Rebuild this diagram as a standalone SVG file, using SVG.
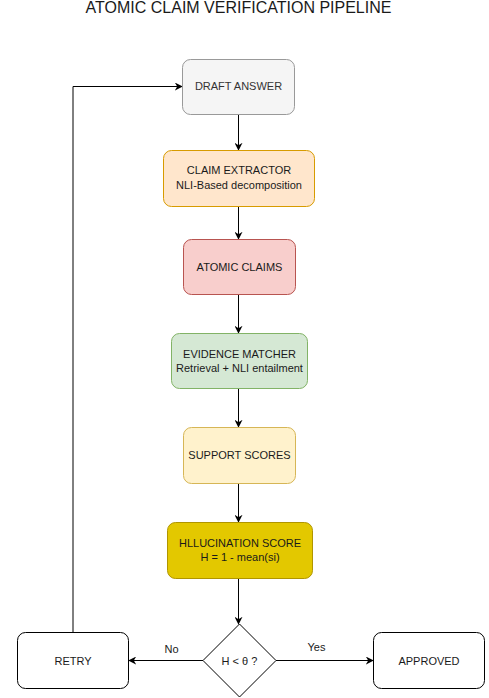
<svg xmlns="http://www.w3.org/2000/svg" width="489" height="698" viewBox="0 0 489 698">
<defs>
<style>
.t{font-family:"Liberation Sans",Arial,sans-serif;font-size:11px;fill:#1a1a1a;text-anchor:middle}
.title{font-family:"Liberation Sans",Arial,sans-serif;font-size:16px;fill:#1a1a1a;text-anchor:middle}
.c{fill:none;stroke:#000;stroke-width:1;marker-end:url(#ah)}
</style>
<marker id="ah" viewBox="0 0 10 10" refX="9" refY="5" markerWidth="8" markerHeight="8" markerUnits="userSpaceOnUse" orient="auto">
<path d="M0,0 L10,5 L0,10 L3,5 Z" fill="#000"/>
</marker>
</defs>
<rect width="489" height="698" fill="#fff"/>
<text class="title" x="238.5" y="13.3">ATOMIC CLAIM VERIFICATION PIPELINE</text>
<g id="connectors">
<path class="c" d="M238.5,114 V150"/>
<path class="c" d="M238.5,206 V239"/>
<path class="c" d="M238.5,294 V333"/>
<path class="c" d="M238.5,388 V427"/>
<path class="c" d="M238.5,483 V522"/>
<path class="c" d="M238.5,578 V624"/>
<path class="c" d="M203,660.5 H129"/>
<path class="c" d="M276,660.5 H373"/>
<path class="c" d="M73,632 V86.5 H182"/>
<text class="t" x="171.5" y="653">No</text>
<text class="t" x="316.5" y="650.5">Yes</text>
</g>
<g id="draft">
<rect x="182.5" y="59.5" width="112" height="55" rx="8" fill="#f5f5f5" stroke="#999"/>
<text class="t" x="238.5" y="90" style="fill:#333">DRAFT ANSWER</text>
</g>
<g id="extractor">
<rect x="163.5" y="150.5" width="151" height="56" rx="8" fill="#ffe6cc" stroke="#d79b00"/>
<text class="t" x="239" y="174">CLAIM EXTRACTOR</text>
<text class="t" x="239" y="189">NLI-Based decomposition</text>
</g>
<g id="claims">
<rect x="183.5" y="239.5" width="112" height="55" rx="8" fill="#f8cecc" stroke="#b85450"/>
<text class="t" x="239.5" y="270.5">ATOMIC CLAIMS</text>
</g>
<g id="matcher">
<rect x="171.5" y="333.5" width="136" height="55" rx="8" fill="#d5e8d4" stroke="#82b366"/>
<text class="t" x="239.5" y="358">EVIDENCE MATCHER</text>
<text class="t" x="239.5" y="371.5">Retrieval + NLI entailment</text>
</g>
<g id="support">
<rect x="183.5" y="427.5" width="112" height="56" rx="8" fill="#fff2cc" stroke="#d6b656"/>
<text class="t" x="239.5" y="458.5">SUPPORT SCORES</text>
</g>
<g id="hallucination">
<rect x="167.5" y="522.5" width="145" height="56" rx="8" fill="#e3c800" stroke="#b09500"/>
<text class="t" x="240" y="546.5">HLLUCINATION SCORE</text>
<text class="t" x="240" y="560.5">H = 1 - mean(si)</text>
</g>
<g id="decision">
<path d="M239.5,624 L276,660.5 L239.5,697 L203,660.5 Z" fill="#fff" stroke="#000"/>
<text class="t" x="239.5" y="664.5">H &lt; θ ?</text>
</g>
<g id="retry">
<rect x="17.5" y="632.5" width="111" height="56" rx="8" fill="#fff" stroke="#000"/>
<text class="t" x="73" y="664.5">RETRY</text>
</g>
<g id="approved">
<rect x="373.5" y="632.5" width="111" height="56" rx="8" fill="#fff" stroke="#000"/>
<text class="t" x="429" y="664.5">APPROVED</text>
</g>
</svg>
